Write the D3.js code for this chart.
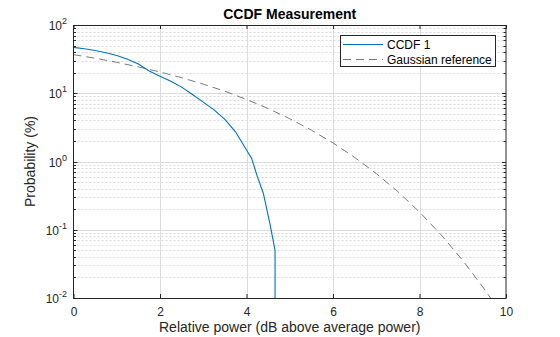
<!DOCTYPE html>
<html>
<head>
<meta charset="utf-8">
<script src="https://cdn.jsdelivr.net/npm/d3@7"></script>
<style>
  html, body { margin: 0; padding: 0; background: #fff; }
  svg { display: block; font-family: "Liberation Sans", Arial, Helvetica, sans-serif; }
</style>
</head>
<body>
<svg id="chart" width="560" height="337"></svg>
<script>
// Measured CCDF (relative power in dB above average, probability in %)
const ccdfPower = [0, 0.25, 0.5, 0.75, 1.0, 1.25, 1.5, 1.75, 2.0, 2.25, 2.5, 2.75, 3.0, 3.25, 3.5, 3.75, 4.0, 4.12, 4.24, 4.39, 4.54, 4.66, 4.66];
const ccdfProb  = [47.0, 44.8, 42.3, 39.3, 35.8, 31.5, 26.8, 21.2, 17.8, 15.0, 12.3, 9.6, 7.4, 5.7, 4.15, 2.7, 1.47, 1.11, 0.63, 0.34, 0.124, 0.05, 0.001];

// Gaussian reference curve
const gaussPower = [0, 0.5, 1.0, 1.5, 2.0, 2.5, 3.0, 3.5, 4.0, 4.5, 5.0, 5.5, 6.0, 6.5, 7.0, 7.5, 8.0, 8.5, 9.0, 9.5, 9.7];
const gaussProb  = [36.8, 32.6, 28.4, 24.3, 20.5, 16.9, 13.6, 10.7, 8.11, 5.97, 4.23, 2.88, 1.87, 1.15, 0.666, 0.362, 0.182, 0.0842, 0.0355, 0.0135, 0.00884];

const xTicks = [0, 2, 4, 6, 8, 10];
const yDecades = [-2, -1, 0, 1, 2];
const legendLabels = ["CCDF 1", "Gaussian reference"];

const pL = 73.5, pR = 506, pT = 25, pB = 298;
const x = d3.scaleLinear().domain([0, 10]).range([pL, pR]);
const y = d3.scaleLog().domain([0.01, 100]).range([pB, pT]);

const svg = d3.select("#chart");
const axisColor = "#262626";

// minor log grid (2..9 within each decade)
const minorVals = [];
for (let e = -2; e < 2; e++) for (let m = 2; m <= 9; m++) minorVals.push(m * Math.pow(10, e));

const grid = svg.append("g");
grid.selectAll("line.minor").data(minorVals).join("line")
  .attr("x1", pL).attr("x2", pR)
  .attr("y1", d => Math.round(y(d)) + 0.5).attr("y2", d => Math.round(y(d)) + 0.5)
  .attr("stroke", "#dadada").attr("stroke-width", 1).attr("stroke-dasharray", "2,2");
grid.selectAll("line.majy").data(yDecades.slice(1, -1)).join("line")
  .attr("x1", pL).attr("x2", pR)
  .attr("y1", d => Math.round(y(Math.pow(10, d))) + 0.5).attr("y2", d => Math.round(y(Math.pow(10, d))) + 0.5)
  .attr("stroke", "#dcdcdc").attr("stroke-width", 1);
grid.selectAll("line.majx").data(xTicks.slice(1, -1)).join("line")
  .attr("x1", d => Math.round(x(d)) + 0.5).attr("x2", d => Math.round(x(d)) + 0.5)
  .attr("y1", pT).attr("y2", pB)
  .attr("stroke", "#dcdcdc").attr("stroke-width", 1);

// data lines, clipped to plot box
svg.append("clipPath").attr("id", "plotclip")
  .append("rect").attr("x", pL).attr("y", pT).attr("width", pR - pL).attr("height", pB - pT);

const line = d3.line().x(d => x(d[0])).y(d => y(d[1]));
const plot = svg.append("g").attr("clip-path", "url(#plotclip)");
plot.append("path")
  .datum(gaussPower.map((p, i) => [p, gaussProb[i]]))
  .attr("d", line).attr("fill", "none")
  .attr("stroke", "#7a7a7a").attr("stroke-width", 1).attr("stroke-dasharray", "8,5");
plot.append("path")
  .datum(ccdfPower.map((p, i) => [p, ccdfProb[i]]))
  .attr("d", line).attr("fill", "none")
  .attr("stroke", "#0072BD").attr("stroke-width", 1.1);

// axes with inward ticks, mirrored on top/right
const xAxisB = d3.axisBottom(x).tickValues(xTicks).tickSizeInner(-4).tickSizeOuter(0).tickPadding(9).tickFormat(d3.format("d"));
const gx = svg.append("g").attr("transform", `translate(0,${pB})`).call(xAxisB);
gx.select(".domain").remove();
gx.selectAll("line").attr("stroke", axisColor);
gx.selectAll("text").attr("font-size", 12).attr("fill", axisColor)
  .attr("font-family", '"Liberation Sans", Arial, sans-serif');

const gxT = svg.append("g").attr("transform", `translate(0,${pT})`)
  .call(d3.axisTop(x).tickValues(xTicks).tickSizeInner(-4).tickSizeOuter(0).tickFormat(""));
gxT.select(".domain").remove();
gxT.selectAll("line").attr("stroke", axisColor);

const yMajor = yDecades.map(e => Math.pow(10, e));
function yTicks(g, side) {
  const sign = side === "left" ? 1 : -1;
  const xpos = side === "left" ? pL : pR;
  g.selectAll("line.maj").data(yMajor).join("line")
    .attr("x1", xpos).attr("x2", xpos + sign * 4)
    .attr("y1", d => Math.round(y(d)) + 0.5).attr("y2", d => Math.round(y(d)) + 0.5)
    .attr("stroke", axisColor);
  g.selectAll("line.min").data(minorVals).join("line")
    .attr("x1", xpos).attr("x2", xpos + sign * 2.5)
    .attr("y1", d => Math.round(y(d)) + 0.5).attr("y2", d => Math.round(y(d)) + 0.5)
    .attr("stroke", axisColor);
}
yTicks(svg.append("g"), "left");
yTicks(svg.append("g"), "right");

// y tick labels as 10^n
const yl = svg.append("g").attr("fill", axisColor).attr("font-size", 12);
yDecades.forEach(e => {
  const t = yl.append("text")
    .attr("x", 67).attr("y", y(Math.pow(10, e)) + 5)
    .attr("text-anchor", "end");
  t.append("tspan").text("10");
  t.append("tspan").attr("dy", -6).attr("font-size", 9).text(String(e));
});

// plot box
svg.append("rect").attr("x", pL).attr("y", pT + 0.5)
  .attr("width", pR - pL).attr("height", pB - pT)
  .attr("fill", "none").attr("stroke", axisColor).attr("stroke-width", 1);

// title and axis labels
svg.append("text").attr("x", (pL + pR) / 2).attr("y", 19)
  .attr("text-anchor", "middle").attr("font-weight", "bold").attr("font-size", 14)
  .attr("fill", "#000").text("CCDF Measurement");
svg.append("text").attr("x", (pL + pR) / 2).attr("y", 332)
  .attr("text-anchor", "middle").attr("font-size", 14).attr("fill", axisColor)
  .text("Relative power (dB above average power)");
svg.append("text").attr("transform", `translate(35,${(pT + pB) / 2}) rotate(-90)`)
  .attr("text-anchor", "middle").attr("font-size", 14).attr("fill", axisColor)
  .text("Probability (%)");

// legend
const lg = svg.append("g");
lg.append("rect").attr("x", 340.5).attr("y", 35.5).attr("width", 155).attr("height", 31)
  .attr("fill", "#fff").attr("stroke", axisColor).attr("stroke-width", 1);
const legendStyles = [
  { color: "#0072BD", dash: null },
  { color: "#7a7a7a", dash: "8,5" }
];
legendLabels.forEach((lab, i) => {
  const cy = 44.5 + i * 15;
  lg.append("line").attr("x1", 343).attr("x2", 383).attr("y1", cy).attr("y2", cy)
    .attr("stroke", legendStyles[i].color).attr("stroke-width", 1.1)
    .attr("stroke-dasharray", legendStyles[i].dash);
  lg.append("text").attr("x", 387).attr("y", cy + 4.5).attr("font-size", 12)
    .attr("fill", "#000").text(lab);
});
</script>
</body>
</html>
